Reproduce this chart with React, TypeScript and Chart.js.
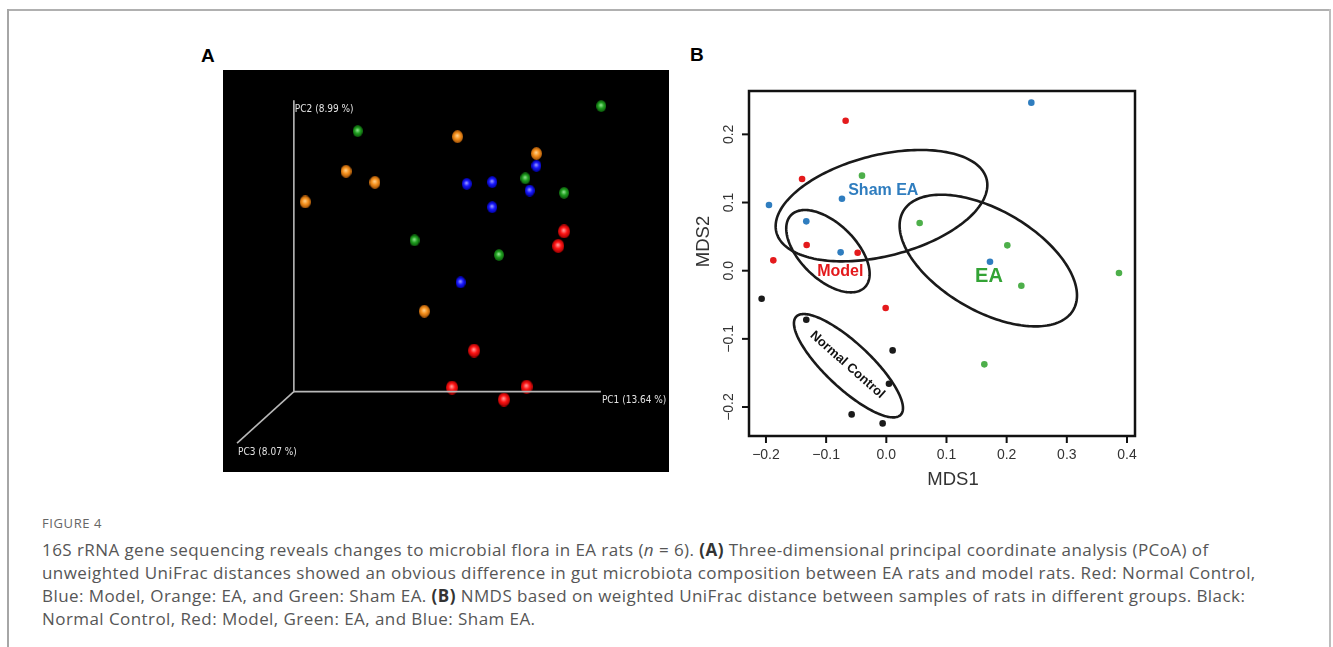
import React, { useEffect, useRef } from "react";
import { Chart, registerables } from "chart.js";

Chart.register(...registerables);

// ---------- Panel A: 3D PCoA (projected screen coordinates, PC1 axis = 0..1, PC2 axis = 0..1) ----------
const pcoaRed = [[0.880, 0.550], [0.861, 0.500], [0.587, 0.141], [0.515, 0.014], [0.758, 0.017], [0.684, -0.027]];
const pcoaBlue = [[0.790, 0.775], [0.563, 0.713], [0.646, 0.719], [0.768, 0.690], [0.646, 0.633], [0.543, 0.375]];
const pcoaOrange = [[0.533, 0.875], [0.790, 0.817], [0.170, 0.756], [0.264, 0.718], [0.037, 0.651], [0.425, 0.276]];
const pcoaGreen = [[1.001, 0.980], [0.208, 0.894], [0.754, 0.732], [0.880, 0.682], [0.393, 0.519], [0.668, 0.469]];
const pcAxisLabels = ["PC1 (13.64 %)", "PC2 (8.99 %)", "PC3 (8.07 %)"];
const pcAxisEnds = [[1, 0], [0, 1], [-0.185, -0.1765]];

// ---------- Panel B: NMDS ----------
const ncX = [-0.2072, -0.133, 0.0105, 0.0044, -0.0576, -0.0061];
const ncY = [-0.0411, -0.0719, -0.1169, -0.1658, -0.2108, -0.224];
const modelX = [-0.0676, -0.140, -0.1324, -0.0476, -0.1878, -0.0011];
const modelY = [0.220, 0.1345, 0.0377, 0.0264, 0.0152, -0.0548];
const eaX = [-0.0404, 0.0554, 0.2011, 0.2244, 0.3867, 0.1629];
const eaY = [0.1394, 0.0699, 0.0372, -0.022, -0.0034, -0.1374];
const shamX = [0.241, -0.195, -0.0737, -0.133, -0.0759, 0.1723];
const shamY = [0.2465, 0.0963, 0.1056, 0.0724, 0.0269, 0.0132];

// ellipse: centre, half x-extent, half y-extent, tilt (cosine of phase)
const ellipseSham = { cx: -0.008, cy: 0.0954, rx: 0.1759, ry: 0.0817, c: 0.37 };
const ellipseModel = { cx: -0.097, cy: 0.0286, rx: 0.0693, ry: 0.0604, c: -0.55 };
const ellipseEA = { cx: 0.1695, cy: 0.0149, rx: 0.1474, ry: 0.0966, c: -0.53 };
const ellipseNC = { cx: -0.0629, cy: -0.1394, rx: 0.0906, ry: 0.0758, c: -0.82 };

const groupLabels = ["Sham EA", "Model", "EA", "Normal Control"];
const groupLabelPos = [[-0.005, 0.117], [-0.0765, -0.0015], [0.1706, -0.0083], [-0.0648, -0.1383]];

const xTickValues = [-0.2, -0.1, 0.0, 0.1, 0.2, 0.3, 0.4];
const xTickLabels = ["\u22120.2", "\u22120.1", "0.0", "0.1", "0.2", "0.3", "0.4"];
const yTickValues = [-0.2, -0.1, 0.0, 0.1, 0.2];
const yTickLabels = ["\u22120.2", "\u22120.1", "0.0", "0.1", "0.2"];

const C_BLACK = "#1a1a1a";
const C_RED = "#e41a1c";
const C_GREEN = "#4daf4a";
const C_BLUE = "#2f7dbf";

function makeSphere(light: string, base: string, dark: string, w: number, h: number) {
  const c = document.createElement("canvas");
  c.width = w;
  c.height = h;
  const g = c.getContext("2d")!;
  const grad = g.createRadialGradient(w * 0.47, h * 0.42, 0.3, w / 2, h / 2, Math.max(w, h) / 2);
  grad.addColorStop(0, light);
  grad.addColorStop(0.45, base);
  grad.addColorStop(1, dark);
  g.fillStyle = grad;
  g.beginPath();
  g.ellipse(w / 2, h / 2, w / 2, h / 2, 0, 0, Math.PI * 2);
  g.fill();
  return c;
}

const toPts = (arr: number[][]) => arr.map(([x, y]) => ({ x, y }));
const zipPts = (xs: number[], ys: number[]) => xs.map((x, i) => ({ x, y: ys[i] }));

const pcLabelPlugin = {
  id: "pcLabels",
  afterDatasetsDraw(chart: any) {
    const { ctx } = chart;
    const xs = chart.scales.x;
    const ys = chart.scales.y;
    ctx.save();
    ctx.font = '10px "Liberation Sans Narrow", "DejaVu Sans Condensed", "Liberation Sans", sans-serif';
    ctx.fillStyle = "#e2e2e2";
    ctx.textAlign = "left";
    ctx.textBaseline = "middle";
    pcAxisLabels.forEach((lab, i) => {
      const e = pcAxisEnds[i];
      ctx.fillText(lab, xs.getPixelForValue(e[0]) + 1, ys.getPixelForValue(e[1]) + 9);
    });
    ctx.restore();
  },
};

function drawEllipse(ctx: CanvasRenderingContext2D, xs: any, ys: any, e: any) {
  const phi = Math.acos(e.c);
  ctx.beginPath();
  const n = 200;
  for (let i = 0; i <= n; i++) {
    const t = (i / n) * Math.PI * 2;
    const dx = e.cx + e.rx * Math.cos(t);
    const dy = e.cy + e.ry * Math.cos(t - phi);
    const px = xs.getPixelForValue(dx);
    const py = ys.getPixelForValue(dy);
    if (i === 0) ctx.moveTo(px, py);
    else ctx.lineTo(px, py);
  }
  ctx.closePath();
  ctx.stroke();
}

const nmdsPlugin = {
  id: "nmdsDecor",
  beforeDatasetsDraw(chart: any) {
    const { ctx } = chart;
    const xs = chart.scales.x;
    const ys = chart.scales.y;
    ctx.save();
    ctx.strokeStyle = C_BLACK;
    ctx.lineWidth = 2.6;
    [ellipseSham, ellipseModel, ellipseEA, ellipseNC].forEach((e) => drawEllipse(ctx, xs, ys, e));
    ctx.restore();
  },
  afterDatasetsDraw(chart: any) {
    const { ctx } = chart;
    const xs = chart.scales.x;
    const ys = chart.scales.y;
    ctx.save();
    ctx.textAlign = "center";
    ctx.textBaseline = "middle";
    const fonts = [
      'bold 16px "Liberation Sans", Arial, sans-serif',
      'bold 16px "Liberation Sans", Arial, sans-serif',
      'bold 20px "Liberation Sans", Arial, sans-serif',
      'bold 13px "Liberation Sans", Arial, sans-serif',
    ];
    const colors = [C_BLUE, "#e3191c", "#33a335", "#111111"];
    groupLabels.forEach((lab, i) => {
      const px = xs.getPixelForValue(groupLabelPos[i][0]);
      const py = ys.getPixelForValue(groupLabelPos[i][1]);
      ctx.save();
      ctx.translate(px, py);
      if (i === 3) ctx.rotate((41.5 * Math.PI) / 180);
      ctx.font = fonts[i];
      ctx.fillStyle = colors[i];
      ctx.fillText(lab, 0, 0);
      ctx.restore();
    });
    ctx.restore();
  },
  afterDraw(chart: any) {
    const { ctx, chartArea } = chart;
    const xs = chart.scales.x;
    const ys = chart.scales.y;
    const { left, right, top, bottom } = chartArea;
    ctx.save();
    ctx.strokeStyle = "#111";
    ctx.lineWidth = 2.5;
    ctx.strokeRect(left, top, right - left, bottom - top);
    ctx.lineWidth = 2;
    ctx.fillStyle = "#333";
    ctx.font = '14px "Liberation Sans", Arial, sans-serif';
    ctx.textAlign = "center";
    ctx.textBaseline = "middle";
    xTickValues.forEach((v, i) => {
      const px = xs.getPixelForValue(v);
      ctx.beginPath();
      ctx.moveTo(px, bottom);
      ctx.lineTo(px, bottom + 7);
      ctx.stroke();
      ctx.fillText(xTickLabels[i], px, bottom + 19);
    });
    yTickValues.forEach((v, i) => {
      const py = ys.getPixelForValue(v);
      ctx.beginPath();
      ctx.moveTo(left, py);
      ctx.lineTo(left - 7, py);
      ctx.stroke();
      ctx.save();
      ctx.translate(left - 20, py);
      ctx.rotate(-Math.PI / 2);
      ctx.fillText(yTickLabels[i], 0, 0);
      ctx.restore();
    });
    ctx.font = '18.5px "Liberation Sans", Arial, sans-serif';
    ctx.fillStyle = "#333";
    ctx.fillText("MDS1", (left + right) / 2 + 11, bottom + 44);
    ctx.save();
    ctx.translate(left - 45, (top + bottom) / 2 - 22);
    ctx.rotate(-Math.PI / 2);
    ctx.fillText("MDS2", 0, 0);
    ctx.restore();
    ctx.restore();
  },
};

export default function App() {
  const aRef = useRef<HTMLCanvasElement>(null);
  const bRef = useRef<HTMLCanvasElement>(null);

  useEffect(() => {
    const sRed = makeSphere("#ff9a9a", "#ff1414", "#9a0000", 12, 14);
    const sBlue = makeSphere("#9a9aff", "#1818ff", "#00009a", 10, 12);
    const sOrange = makeSphere("#ffd08a", "#f5901c", "#9a4d06", 11, 13);
    const sGreen = makeSphere("#8ee08e", "#1f9f1f", "#0a520a", 10, 12);

    const sphereSet = (arr: number[][], img: HTMLCanvasElement) => ({
      type: "scatter" as const,
      data: toPts(arr),
      pointStyle: img,
      pointRadius: 6,
      clip: false as any,
    });

    const chartA = new Chart(aRef.current!, {
      type: "scatter",
      data: {
        datasets: [
          {
            type: "line",
            data: [
              { x: pcAxisEnds[1][0], y: pcAxisEnds[1][1] },
              { x: 0, y: 0 },
              { x: pcAxisEnds[0][0], y: pcAxisEnds[0][1] },
            ],
            borderColor: "#b8b8b8",
            borderWidth: 1.6,
            pointRadius: 0,
            tension: 0,
          } as any,
          {
            type: "line",
            data: [
              { x: 0, y: 0 },
              { x: pcAxisEnds[2][0], y: pcAxisEnds[2][1] },
            ],
            borderColor: "#b8b8b8",
            borderWidth: 1.6,
            pointRadius: 0,
            tension: 0,
          } as any,
          sphereSet(pcoaBlue, sBlue) as any,
          sphereSet(pcoaGreen, sGreen) as any,
          sphereSet(pcoaOrange, sOrange) as any,
          sphereSet(pcoaRed, sRed) as any,
        ],
      },
      options: {
        animation: false,
        responsive: false,
        events: [],
        layout: { padding: 0 },
        plugins: { legend: { display: false }, tooltip: { enabled: false } },
        scales: {
          x: { type: "linear", min: -0.208, max: 1.199, display: false },
          y: { type: "linear", min: -0.2517, max: 1.0795, display: false },
        },
      },
      plugins: [pcLabelPlugin],
    });

    const dot = (xs: number[], ys: number[], color: string) => ({
      data: zipPts(xs, ys),
      backgroundColor: color,
      pointRadius: 3.3,
      borderWidth: 0,
      clip: false as any,
    });

    const chartB = new Chart(bRef.current!, {
      type: "scatter",
      data: {
        datasets: [
          dot(ncX, ncY, C_BLACK) as any,
          dot(modelX, modelY, C_RED) as any,
          dot(eaX, eaY, C_GREEN) as any,
          dot(shamX, shamY, C_BLUE) as any,
        ],
      },
      options: {
        animation: false,
        responsive: false,
        events: [],
        layout: { padding: { left: 59, right: 15, top: 51, bottom: 64 } },
        plugins: { legend: { display: false }, tooltip: { enabled: false } },
        scales: {
          x: { type: "linear", min: -0.2282, max: 0.4133, display: false },
          y: { type: "linear", min: -0.2425, max: 0.2636, display: false },
        },
      },
      plugins: [nmdsPlugin],
    });

    return () => {
      chartA.destroy();
      chartB.destroy();
    };
  }, []);

  const capFont = '"Open Sans", "Noto Sans", sans-serif';

  return (
    <div
      style={{
        position: "fixed",
        left: 0,
        top: 0,
        width: 1333,
        height: 647,
        background: "#fff",
        overflow: "hidden",
      }}
    >
      {/* frame */}
      <div style={{ position: "absolute", left: 7, top: 9, width: 1324, height: 2, background: "#b0b0b0" }} />
      <div style={{ position: "absolute", left: 7, top: 9, width: 2, height: 640, background: "#a6a6a6" }} />
      <div style={{ position: "absolute", left: 1329, top: 9, width: 2, height: 640, background: "#bdbdbd" }} />

      {/* panel letters */}
      <div
        style={{
          position: "absolute",
          left: 201,
          top: 44,
          font: 'bold 19px "Liberation Sans", Arial, sans-serif',
          color: "#000",
          lineHeight: "24px",
        }}
      >
        A
      </div>
      <div
        style={{
          position: "absolute",
          left: 690,
          top: 43,
          font: 'bold 19px "Liberation Sans", Arial, sans-serif',
          color: "#000",
          lineHeight: "24px",
        }}
      >
        B
      </div>

      <canvas
        ref={aRef}
        width={446}
        height={402}
        style={{ position: "absolute", left: 223, top: 70, width: 446, height: 402, background: "#000" }}
      />
      <canvas
        ref={bRef}
        width={460}
        height={460}
        style={{ position: "absolute", left: 690, top: 40, width: 460, height: 460 }}
      />

      {/* caption */}
      <div
        style={{
          position: "absolute",
          left: 42,
          top: 513,
          fontFamily: capFont,
          fontSize: 13,
          letterSpacing: "0.6px",
          color: "#666",
          lineHeight: "20px",
        }}
      >
        FIGURE 4
      </div>
      <div
        style={{
          position: "absolute",
          left: 42,
          top: 538,
          fontFamily: capFont,
          fontSize: 17,
          letterSpacing: "0.43px",
          lineHeight: "23px",
          color: "#565656",
          whiteSpace: "nowrap",
        }}
      >
        <div>
          16S rRNA gene sequencing reveals changes to microbial flora in EA rats (<i>n</i> = 6).{" "}
          <b style={{ color: "#333" }}>(A)</b> Three-dimensional principal coordinate analysis (PCoA) of
        </div>
        <div>
          unweighted UniFrac distances showed an obvious difference in gut microbiota composition between EA rats and
          model rats. Red: Normal Control,
        </div>
        <div>
          Blue: Model, Orange: EA, and Green: Sham EA. <b style={{ color: "#333" }}>(B)</b> NMDS based on weighted
          UniFrac distance between samples of rats in different groups. Black:
        </div>
        <div>Normal Control, Red: Model, Green: EA, and Blue: Sham EA.</div>
      </div>
    </div>
  );
}
